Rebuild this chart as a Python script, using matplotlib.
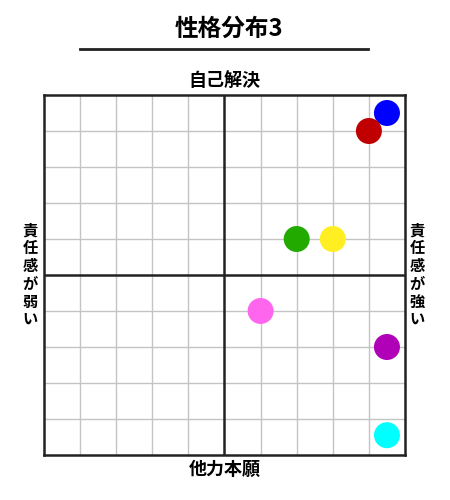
import matplotlib.pyplot as plt
import numpy as np

plt.rcParams['font.family'] = ['Noto Sans CJK JP', 'DejaVu Sans']

# data: position on the 10x10 grid (-5..5)
names = ["blue", "red", "green", "yellow", "pink", "purple", "cyan"]
x_vals = [4.5, 4.0, 2.0, 3.0, 1.0, 4.5, 4.5]
y_vals = [4.5, 4.0, 1.0, 1.0, -1.0, -2.0, -4.45]
colors = ["#0000ff", "#c00000", "#22aa00", "#ffee22", "#ff66ee", "#b000b8", "#00ffff"]

title = "性格分布3"
top_label = "自己解決"
bottom_label = "他力本願"
left_label = "責任感が弱い"
right_label = "責任感が強い"

fig = plt.figure(figsize=(4.5, 5.0), dpi=100)
ax = fig.add_axes([44 / 450, 45 / 500, 361 / 450, 360 / 500])

ax.set_xlim(-5, 5)
ax.set_ylim(-5, 5)
ticks = np.arange(-5, 6, 1)
for t in ticks[1:-1]:
    if t == 0:
        continue
    ax.axvline(t, color="#c4c4c4", lw=1, zorder=1)
    ax.axhline(t, color="#c4c4c4", lw=1, zorder=1)
ax.axvline(0, color="#222222", lw=1.8, zorder=2)
ax.axhline(0, color="#222222", lw=1.8, zorder=2)

ax.scatter(x_vals, y_vals, s=(26 * 0.72) ** 2, c=colors, zorder=3, linewidths=0)

ax.set_xticks([])
ax.set_yticks([])
for sp in ax.spines.values():
    sp.set_linewidth(1.8)
    sp.set_color("#222222")

fig.text(229 / 450, 1 - 29 / 500, title, ha="center", va="center", fontsize=17, fontweight="bold")
fig.add_artist(plt.Line2D([80 / 450, 368 / 450], [1 - 49 / 500, 1 - 49 / 500], color="#222222", lw=2))

fig.text(224.5 / 450, 1 - 81 / 500, top_label, ha="center", va="center", fontsize=13, fontweight="bold")
fig.text(224.5 / 450, 1 - 469 / 500, bottom_label, ha="center", va="center", fontsize=13, fontweight="bold")
fig.text(30 / 450, 1 - 275 / 500, "\n".join(left_label), ha="center", va="center",
         fontsize=11, fontweight="bold", linespacing=1.15)
fig.text(417 / 450, 1 - 275 / 500, "\n".join(right_label), ha="center", va="center",
         fontsize=11, fontweight="bold", linespacing=1.15)

fig.savefig("out.png", dpi=100)
